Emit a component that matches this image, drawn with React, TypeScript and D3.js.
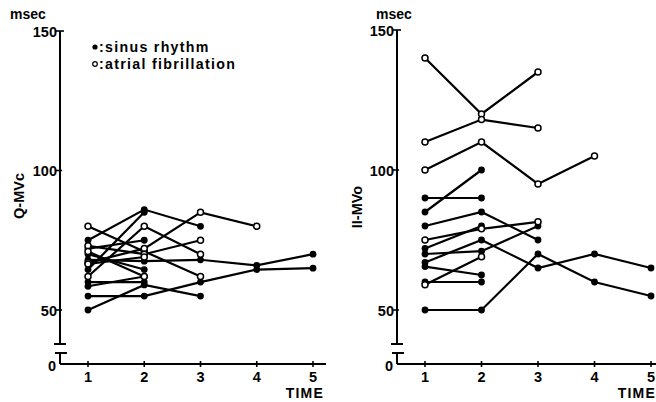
import React from "react";
import * as d3 from "d3";

// ---- data ----
const timeTicks = [1, 2, 3, 4, 5];
const yTicks = [50, 100, 150];

// Left panel: Q-MVc (msec), each series starts at time 1
const qmvcSinus: number[][] = [
  [75, 86, 80],
  [64.5, 85],
  [72, 75],
  [68, 67.5, 68, 66, 70],
  [70, 64.5],
  [60, 60],
  [55, 55, 60, 64.5, 65],
  [50, 59, 55],
  [58.5, 62],
];
const qmvcAF: number[][] = [
  [80, 71, 62],
  [62, 80, 70],
  [67, 72, 85, 80],
  [73, 70, 75],
  [71, 62],
  [66.5, 69],
];

// Right panel: II-MVo (msec)
const iimvoSinus: number[][] = [
  [90, 90],
  [85, 100],
  [80, 85, 75],
  [72, 80],
  [70, 71, 80],
  [67, 75, 65, 70, 65],
  [65.5, 62.5],
  [60, 60],
  [50, 50, 70, 60, 55],
];
const iimvoAF: number[][] = [
  [140, 120, 135],
  [110, 118, 115],
  [100, 110, 95, 105],
  [75, 79, 81.5],
  [59, 69],
];

const FONT = "'Liberation Sans', Arial, Helvetica, sans-serif";

type PanelProps = {
  axisX: number;
  axisEnd: number;
  yTop: number;
  x1: number;
  x5: number;
  title: string;
  titleX: number;
  titleY: number;
  sinus: number[][];
  af: number[][];
  msecX: number;
};

function Panel(p: PanelProps) {
  const x = d3.scaleLinear().domain([1, 5]).range([p.x1, p.x5]);
  const y = d3.scaleLinear().domain([50, 150]).range([310, p.yTop]);
  const baseY = 364;
  const breakTop = 344;
  const breakBot = 353;
  const line = d3
    .line<number>()
    .x((_, i) => x(i + 1))
    .y((d) => y(d));
  const r = 3.4;
  return (
    <g>
      {/* y axis */}
      <line x1={p.axisX} x2={p.axisX} y1={y(150)} y2={breakTop} stroke="#000" strokeWidth={2} />
      <line x1={p.axisX - 6} x2={p.axisX + 6} y1={breakTop} y2={breakTop} stroke="#000" strokeWidth={2} />
      <line x1={p.axisX - 5} x2={p.axisX + 7} y1={breakBot} y2={breakBot} stroke="#000" strokeWidth={2} />
      <line x1={p.axisX} x2={p.axisX} y1={breakBot} y2={baseY} stroke="#000" strokeWidth={2} />
      {yTicks.map((t) => (
        <g key={t}>
          <line
            x1={p.axisX - 4}
            x2={p.axisX + (t === 150 ? 4 : 2)}
            y1={y(t)}
            y2={y(t)}
            stroke="#000"
            strokeWidth={1.6}
          />
          <text
            x={p.axisX - 3}
            y={y(t) + 5.5}
            textAnchor="end"
            fontFamily={FONT}
            fontWeight="bold"
            fontSize={14.5}
          >
            {t}
          </text>
        </g>
      ))}
      <text x={p.axisX - 4} y={baseY + 7} textAnchor="end" fontFamily={FONT} fontWeight="bold" fontSize={14.5}>
        0
      </text>
      <text x={p.msecX} y={19} fontFamily={FONT} fontWeight="bold" fontSize={14}>
        msec
      </text>
      {/* x axis */}
      <line x1={p.axisX} x2={p.axisEnd} y1={baseY} y2={baseY} stroke="#000" strokeWidth={2} />
      {timeTicks.map((t) => (
        <g key={t}>
          <line x1={x(t)} x2={x(t)} y1={baseY - 3} y2={baseY + 3} stroke="#000" strokeWidth={1.6} />
          <text x={x(t)} y={382} textAnchor="middle" fontFamily={FONT} fontWeight="bold" fontSize={14.5}>
            {t}
          </text>
        </g>
      ))}
      <text x={p.axisEnd - 2} y={398} textAnchor="end" fontFamily={FONT} fontWeight="bold" fontSize={14} letterSpacing={1.2}>
        TIME
      </text>
      {/* y title */}
      <text
        transform={`translate(${p.titleX},${p.titleY}) rotate(-90)`}
        textAnchor="middle"
        fontFamily={FONT}
        fontWeight="bold"
        fontSize={14.5}
      >
        {p.title}
      </text>
      {/* lines */}
      {[...p.sinus, ...p.af].map((s, i) => (
        <path key={"l" + i} d={line(s) || ""} fill="none" stroke="#000" strokeWidth={2.2} />
      ))}
      {p.sinus.map((s, i) =>
        s.map((v, j) => <circle key={`s${i}-${j}`} cx={x(j + 1)} cy={y(v)} r={r} fill="#000" />)
      )}
      {p.af.map((s, i) =>
        s.map((v, j) => (
          <circle key={`a${i}-${j}`} cx={x(j + 1)} cy={y(v)} r={r - 0.4} fill="#fff" stroke="#000" strokeWidth={1.5} />
        ))
      )}
    </g>
  );
}

export default function App() {
  return (
    <svg width={656} height={402} style={{ position: "absolute", left: 0, top: 0, background: "#fff" }}>
      <rect width={656} height={402} fill="#fff" />
      <Panel
        axisX={60}
        axisEnd={326}
        yTop={31}
        x1={88}
        x5={313}
        title="Q-MVc"
        titleX={24}
        titleY={196}
        sinus={qmvcSinus}
        af={qmvcAF}
        msecX={10}
      />
      <Panel
        axisX={397}
        axisEnd={658}
        yTop={30}
        x1={425}
        x5={651}
        title="II-MVo"
        titleX={362}
        titleY={207}
        sinus={iimvoSinus}
        af={iimvoAF}
        msecX={376}
      />
      {/* legend */}
      <circle cx={95} cy={47} r={2.6} fill="#000" />
      <text x={99} y={52} fontFamily={FONT} fontWeight="bold" fontSize={14.2} letterSpacing={1.3}>
        :sinus rhythm
      </text>
      <circle cx={95} cy={64} r={2.3} fill="#fff" stroke="#000" strokeWidth={1.2} />
      <text x={99} y={69} fontFamily={FONT} fontWeight="bold" fontSize={14.2} letterSpacing={1.3}>
        :atrial fibrillation
      </text>
    </svg>
  );
}
